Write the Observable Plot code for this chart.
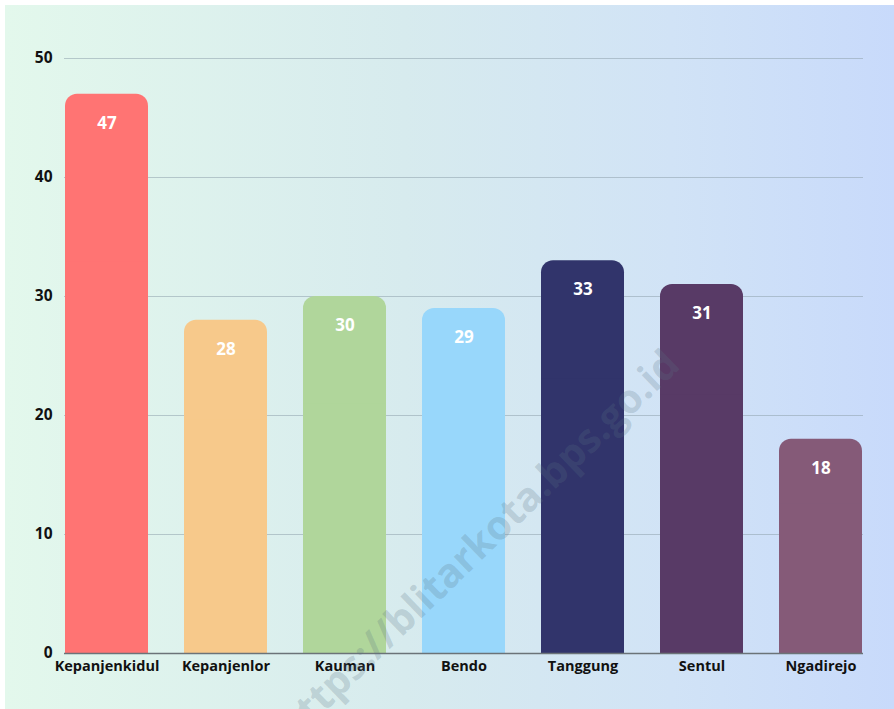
<!DOCTYPE html>
<html>
<head>
<meta charset="utf-8">
<script src="https://cdn.jsdelivr.net/npm/d3@7"></script>
<script src="https://cdn.jsdelivr.net/npm/@observablehq/plot@0.6"></script>
<style>
  html, body { margin: 0; padding: 0; background: #ffffff; }
  #wrap { position: relative; width: 894px; height: 709px; overflow: hidden; }
  #bg { position: absolute; left: 5px; top: 5px; width: 889px; height: 704px;
        background: linear-gradient(to right, #e3f8ec 0%, #d7ebee 45%, #d1e3f6 75%, #c8dafb 100%); }
  #chart { position: absolute; left: 0; top: 0; }
  #chart svg { background: transparent !important; }
</style>
</head>
<body>
<div id="wrap"><div id="bg"></div><div id="chart"></div></div>
<script>
const categories = ["Kepanjenkidul", "Kepanjenlor", "Kauman", "Bendo", "Tanggung", "Sentul", "Ngadirejo"];
const values = [47, 28, 30, 29, 33, 31, 18];
const colors = ["#ff7473", "#f7c98b", "#b0d69b", "#98d7fb", "#31346b", "#583a66", "#855a78"];
const yTicks = [0, 10, 20, 30, 40, 50];
const watermark = "https://blitarkota.bps.go.id";

const data = categories.map((c, i) => ({category: c, value: values[i], color: colors[i]}));
const font = "'Open Sans', Lato, sans-serif";

const chart = Plot.plot({
  width: 894,
  height: 709,
  marginLeft: 64,
  marginRight: 31,
  marginTop: 58,
  marginBottom: 56,
  style: {background: "transparent", fontFamily: font, fontSize: "15px", fontWeight: 700, color: "#111"},
  x: {domain: categories, paddingInner: 0.305, paddingOuter: 0, label: null, tickSize: 0, tickPadding: 8},
  y: {domain: [0, 50], ticks: yTicks, label: null, tickSize: 0, tickPadding: 12},
  marks: [
    Plot.ruleY(yTicks.filter(d => d > 0), {stroke: "#8fa3ad", strokeOpacity: 0.55, strokeWidth: 1.2}),
    Plot.barY(data, {x: "category", y: "value", fill: "color", rx: 12}),
    Plot.barY(data, {x: "category", y1: 0, y2: d => d.value * 0.7, fill: "color"}),
    Plot.ruleY([0], {stroke: "#6b7378", strokeWidth: 1.5}),
    Plot.text(data, {x: "category", y: "value", text: d => String(d.value), dy: 29, fill: "white", fontSize: 17, fontWeight: 700}),
    Plot.axisX({tickSize: 0, tickPadding: 7, fontSize: 14.5, fontWeight: 700, fill: "#111"}),
    Plot.axisY({ticks: yTicks, tickSize: 0, tickPadding: 12, fontSize: 15.5, fontWeight: 700, fill: "#111"}),
    Plot.text([watermark], {frameAnchor: "top-left", textAnchor: "middle", dx: 467 - 64, dy: 534 - 58, text: d => d, rotate: -44,
      fontSize: 40, fontWeight: 700, fill: "#5a7384", fillOpacity: 0.24})
  ]
});
document.getElementById("chart").appendChild(chart);
</script>
</body>
</html>
